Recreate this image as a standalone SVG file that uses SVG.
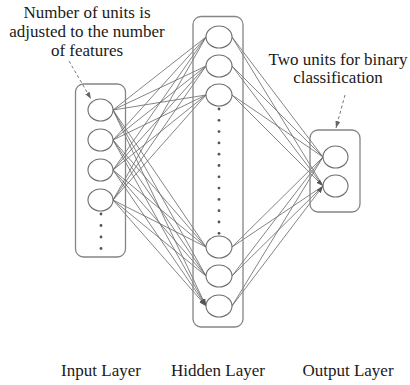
<svg xmlns="http://www.w3.org/2000/svg" width="410" height="385" viewBox="0 0 410 385">
<style>
.box{fill:none;stroke:#858585;stroke-width:1.3}
.node{fill:#fff;stroke:#6e6e6e;stroke-width:1.1}
.dot{fill:#555}
text{font-family:'Liberation Serif','Times New Roman',Times,serif;fill:#1a1a1a;text-anchor:middle}
.lbl{font-size:17px}
.ann{font-size:17px}
.c{stroke:#666;stroke-width:0.8;fill:none;marker-end:url(#ah)}
.d{stroke:#777;stroke-width:1;fill:none;stroke-dasharray:3,2.5;marker-end:url(#ah2)}
</style>
<defs>
<marker id="ah" markerWidth="8" markerHeight="6" refX="7" refY="3" orient="auto" markerUnits="userSpaceOnUse">
<path d="M0,0.5 L7,3 L0,5.5 Z" fill="#555"/>
</marker>
<marker id="ah2" markerWidth="8" markerHeight="6" refX="7" refY="3" orient="auto" markerUnits="userSpaceOnUse">
<path d="M0,0.5 L7,3 L0,5.5 Z" fill="#666"/>
</marker>
</defs>
<rect width="410" height="385" fill="#fff"/>

<g id="connectors">
<path class="c" d="M113,110 L206,37 M113,110 L206,66 M113,110 L206,95 M113,110 L206,247 M113,110 L206,276 M113,110 L206,306"/>
<path class="c" d="M113,140 L206,37 M113,140 L206,66 M113,140 L206,95 M113,140 L206,247 M113,140 L206,276 M113,140 L206,306"/>
<path class="c" d="M113,170 L206,37 M113,170 L206,66 M113,170 L206,95 M113,170 L206,247 M113,170 L206,276 M113,170 L206,306"/>
<path class="c" d="M113,200 L206,37 M113,200 L206,66 M113,200 L206,95 M113,200 L206,247 M113,200 L206,276 M113,200 L206,306"/>
<path class="c" d="M232,37 L323,157 M232,37 L323,186 M232,66 L323,157 M232,66 L323,186 M232,95 L323,157 M232,95 L323,186"/>
<path class="c" d="M232,247 L323,157 M232,247 L323,186 M232,276 L323,157 M232,276 L323,186 M232,306 L323,157 M232,306 L323,186"/>
<path class="d" d="M69,61 L91,99"/>
<path class="d" d="M345,95 L336,128"/>
</g>

<g id="input-layer">
<rect class="box" x="75.5" y="84" width="50" height="173" rx="8"/>
<ellipse class="node" cx="100.5" cy="110" rx="12.5" ry="11"/>
<ellipse class="node" cx="100.5" cy="140" rx="12.5" ry="11"/>
<ellipse class="node" cx="100.5" cy="170" rx="12.5" ry="11"/>
<ellipse class="node" cx="100.5" cy="200" rx="12.5" ry="11"/>
<circle class="dot" cx="101" cy="214" r="1.4"/>
<circle class="dot" cx="101" cy="225.5" r="1.4"/>
<circle class="dot" cx="101" cy="237" r="1.4"/>
<circle class="dot" cx="101" cy="248.5" r="1.4"/>
</g>

<g id="hidden-layer">
<rect class="box" x="193" y="16.5" width="50" height="310.5" rx="8"/>
<ellipse class="node" cx="219" cy="37" rx="13" ry="11"/>
<ellipse class="node" cx="219" cy="66" rx="13" ry="11"/>
<ellipse class="node" cx="219" cy="95" rx="13" ry="11"/>
<ellipse class="node" cx="219" cy="247" rx="13" ry="11"/>
<ellipse class="node" cx="219" cy="276" rx="13" ry="11"/>
<ellipse class="node" cx="219" cy="306" rx="13" ry="11"/>
<circle class="dot" cx="219" cy="109" r="1.4"/>
<circle class="dot" cx="219" cy="120.3" r="1.4"/>
<circle class="dot" cx="219" cy="131.6" r="1.4"/>
<circle class="dot" cx="219" cy="142.9" r="1.4"/>
<circle class="dot" cx="219" cy="154.2" r="1.4"/>
<circle class="dot" cx="219" cy="165.5" r="1.4"/>
<circle class="dot" cx="219" cy="176.8" r="1.4"/>
<circle class="dot" cx="219" cy="188.1" r="1.4"/>
<circle class="dot" cx="219" cy="199.4" r="1.4"/>
<circle class="dot" cx="219" cy="210.7" r="1.4"/>
<circle class="dot" cx="219" cy="222" r="1.4"/>
<circle class="dot" cx="219" cy="233.3" r="1.4"/>
</g>

<g id="output-layer">
<rect class="box" x="310" y="130" width="50" height="82" rx="8"/>
<ellipse class="node" cx="335.5" cy="157" rx="12.5" ry="11"/>
<ellipse class="node" cx="335.5" cy="186" rx="12.5" ry="11"/>
</g>

<g id="annotation-input">
<text class="ann" x="87" y="18" font-family="Liberation Serif, serif">Number of units is</text>
<text class="ann" x="87" y="37" font-family="Liberation Serif, serif">adjusted to the number</text>
<text class="ann" x="87" y="56" font-family="Liberation Serif, serif">of features</text>
</g>

<g id="annotation-output">
<text class="ann" x="338" y="65" font-family="Liberation Serif, serif">Two units for binary</text>
<text class="ann" x="338" y="83" font-family="Liberation Serif, serif">classification</text>
</g>

<g id="layer-labels">
<text class="lbl" x="101" y="376" font-family="Liberation Serif, serif">Input Layer</text>
<text class="lbl" x="218" y="376" font-family="Liberation Serif, serif">Hidden Layer</text>
<text class="lbl" x="348" y="376" font-family="Liberation Serif, serif">Output Layer</text>
</g>
</svg>
